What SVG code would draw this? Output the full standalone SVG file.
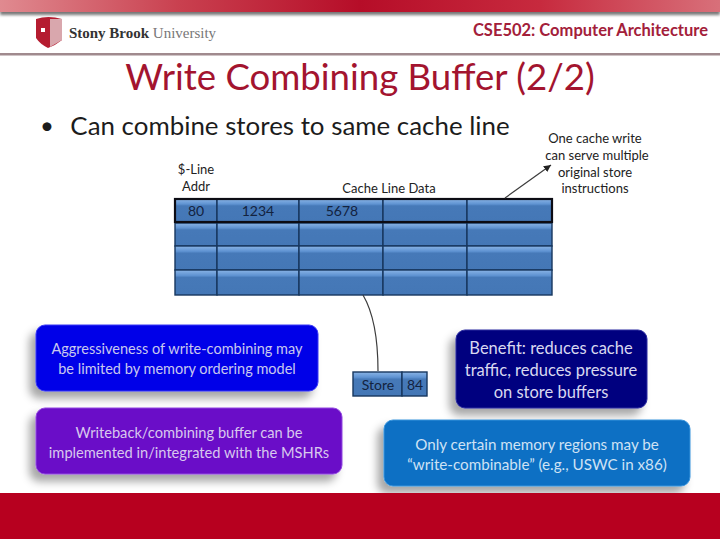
<svg xmlns="http://www.w3.org/2000/svg" width="720" height="539" viewBox="0 0 720 539">
<style>
text{font-family:"Lato","Open Sans","Liberation Sans",sans-serif;text-anchor:middle}
.lbl{font-size:13px;fill:#222}
.num{font-size:14px;fill:#13233f}
.cell{fill:url(#cellG);stroke:#17375e;stroke-width:1.4}
.box{filter:url(#sh);stroke-width:1}
.edge{fill:none;stroke:#3c3c3c;stroke-width:1.2}
</style>
<defs>
<linearGradient id="cellG" x1="0" y1="0" x2="0" y2="1"><stop offset="0" stop-color="#8ab4e6"/><stop offset=".22" stop-color="#5f93d2"/><stop offset=".3" stop-color="#4679b8"/><stop offset="1" stop-color="#4477b6"/></linearGradient>
<linearGradient id="band" x1="0" y1="0" x2="1" y2="0"><stop offset="0" stop-color="#e08a90"/><stop offset=".25" stop-color="#c9404f"/><stop offset=".5" stop-color="#b60d28"/><stop offset=".75" stop-color="#c72a3e"/><stop offset="1" stop-color="#d8707a"/></linearGradient>
<filter id="sh" x="-10%" y="-15%" width="120%" height="140%"><feDropShadow dx="-6" dy="7" stdDeviation="4" flood-color="#000" flood-opacity=".35"/></filter>
<filter id="bs" x="-5%" y="-50%" width="110%" height="300%"><feGaussianBlur stdDeviation="1.5"/></filter>
<marker id="arr" markerWidth="7" markerHeight="7" refX="6" refY="3" orient="auto"><path d="M0 0L6 3L0 6Z" fill="#222"/></marker>
</defs>
<rect width="720" height="539" fill="#fff"/>
<rect x="0" y="9" width="720" height="6" fill="#777" filter="url(#bs)"/>
<rect x="0" y="0" width="720" height="12" fill="url(#band)"/>
<rect x="0" y="53" width="720" height="2.5" fill="#a08a8e"/>
<g id="logo">
<path d="M36 19Q48 15 62 19L62 40Q56 45 48 48Q40 44 36 38Z" fill="#b51c30"/>
<path d="M50 19L62 19L62 40L50 47Z" fill="#d9a7ad"/>
<rect x="41" y="28" width="4" height="4" fill="#fff"/>
<text x="142.500" y="38" style="font-family:'Liberation Serif',serif;font-size:15px;fill:#333"><tspan font-weight="bold">Stony Brook</tspan> <tspan fill="#777">University</tspan></text>
</g>
<text x="590.500" y="36" style="font-size:16.500px;font-weight:bold;fill:#a3203a">CSE502: Computer Architecture</text>
<text x="360" y="90" style="font-size:36.600px;fill:#a3142f">Write Combining Buffer (2/2)</text>
<text x="47" y="134" style="font-size:24px;fill:#1c1c1c">•</text>
<text x="290" y="135" style="font-size:25.900px;fill:#1c1c1c">Can combine stores to same cache line</text>
<g id="table">
<rect x="175" y="199" width="42" height="23" class="cell"/><rect x="217" y="199" width="82" height="23" class="cell"/><rect x="299" y="199" width="84" height="23" class="cell"/><rect x="383" y="199" width="84" height="23" class="cell"/><rect x="467" y="199" width="85" height="23" class="cell"/>
<rect x="175" y="223" width="42" height="23" class="cell"/><rect x="217" y="223" width="82" height="23" class="cell"/><rect x="299" y="223" width="84" height="23" class="cell"/><rect x="383" y="223" width="84" height="23" class="cell"/><rect x="467" y="223" width="85" height="23" class="cell"/>
<rect x="175" y="246" width="42" height="24" class="cell"/><rect x="217" y="246" width="82" height="24" class="cell"/><rect x="299" y="246" width="84" height="24" class="cell"/><rect x="383" y="246" width="84" height="24" class="cell"/><rect x="467" y="246" width="85" height="24" class="cell"/>
<rect x="175" y="270" width="42" height="25" class="cell"/><rect x="217" y="270" width="82" height="25" class="cell"/><rect x="299" y="270" width="84" height="25" class="cell"/><rect x="383" y="270" width="84" height="25" class="cell"/><rect x="467" y="270" width="85" height="25" class="cell"/>
<rect x="175" y="199" width="377" height="23" fill="none" stroke="#0c0c14" stroke-width="2.200"/>
<text x="196" y="216" class="num">80</text>
<text x="258" y="216" class="num">1234</text>
<text x="342" y="216" class="num">5678</text>
</g>
<text x="196" y="174" class="lbl">$-Line</text>
<text x="196" y="191" class="lbl">Addr</text>
<text x="389" y="193" class="lbl">Cache Line Data</text>
<text x="595" y="143" class="lbl">One cache write</text>
<text x="597" y="160" class="lbl">can serve multiple</text>
<text x="595" y="177" class="lbl">original store</text>
<text x="595" y="193" class="lbl">instructions</text>
<g id="connectors">
<path class="edge" d="M505 198L551 165" marker-end="url(#arr)"/>
<path class="edge" d="M363 295C373 312 378 335 378 371"/>
</g>
<g id="store">
<rect x="353" y="372" width="49" height="24" class="cell"/><rect x="402" y="372" width="25" height="24" class="cell"/>
<text x="378" y="390" class="num">Store</text>
<text x="415" y="390" class="num">84</text>
</g>
<g id="note-aggressive">
<rect x="36" y="325" width="282" height="66" rx="9" class="box" fill="#0505e8" stroke="#3a3af5"/>
<text x="177" y="354" style="font-size:14.500px;fill:#c8c8ee">Aggressiveness of write-combining may</text>
<text x="177" y="374" style="font-size:14.500px;fill:#c8c8ee">be limited by memory ordering model</text>
</g>
<g id="note-writeback">
<rect x="36" y="408" width="306" height="66" rx="9" class="box" fill="#6a10c8" stroke="#9248e0"/>
<text x="189" y="438" style="font-size:14.650px;fill:#d8c8ee">Writeback/combining buffer can be</text>
<text x="189" y="458" style="font-size:14.650px;fill:#d8c8ee">implemented in/integrated with the MSHRs</text>
</g>
<g id="note-benefit">
<rect x="456" y="330" width="191" height="78" rx="9" class="box" fill="#03037f" stroke="#2a2aa0"/>
<text x="551" y="354" style="font-size:16.500px;fill:#d8d8f0">Benefit: reduces cache</text>
<text x="551" y="376" style="font-size:16.500px;fill:#d8d8f0">traffic, reduces pressure</text>
<text x="551" y="398" style="font-size:16.500px;fill:#d8d8f0">on store buffers</text>
</g>
<g id="note-regions">
<rect x="384" y="420" width="306" height="66" rx="9" class="box" fill="#0a70c4" stroke="#3a94dc"/>
<text x="537" y="450" style="font-size:15.200px;fill:#cfe2f4">Only certain memory regions may be</text>
<text x="537" y="470" style="font-size:15.200px;fill:#cfe2f4">“write-combinable” (e.g., USWC in x86)</text>
</g>
<rect x="0" y="493" width="720" height="46" fill="#b7001f"/>
</svg>
